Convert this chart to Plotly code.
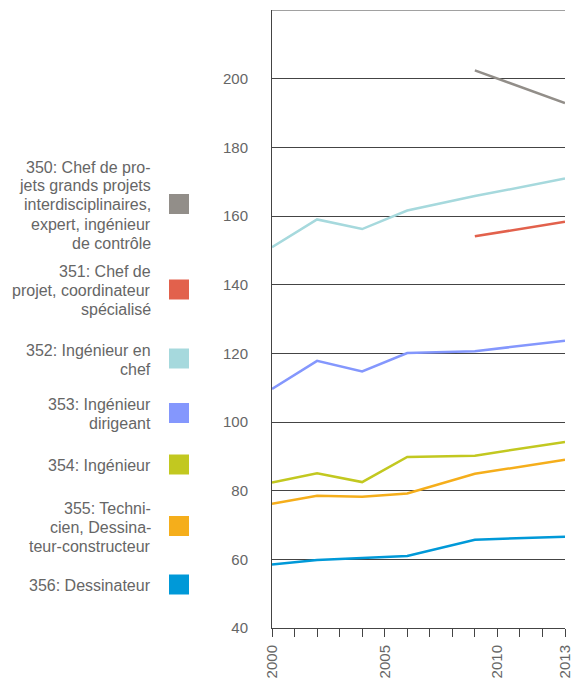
import plotly.graph_objects as go

# Data
years = [2000, 2002, 2004, 2006, 2009, 2013]
s350 = [None, None, None, None, 202.4, 192.9]
s351 = [None, None, None, None, 154.1, 158.3]
s352 = [150.9, 159.0, 156.2, 161.6, 165.8, 170.9]
s353 = [109.6, 117.8, 114.7, 120.1, 120.6, 123.7]
s354 = [82.4, 85.1, 82.5, 89.8, 90.2, 94.2]
s355 = [76.2, 78.5, 78.2, 79.2, 84.9, 89.0]
s356 = [58.5, 59.8, 60.4, 61.0, 65.7, 66.6]

series = [s350, s351, s352, s353, s354, s355, s356]
labels = [
    ["350: Chef de pro-", "jets grands projets", "interdisciplinaires,",
     "expert, ingénieur", "de contrôle"],
    ["351: Chef de", "projet, coordinateur", "spécialisé"],
    ["352: Ingénieur en", "chef"],
    ["353: Ingénieur", "dirigeant"],
    ["354: Ingénieur"],
    ["355: Techni-", "cien, Dessina-", "teur-constructeur"],
    ["356: Dessinateur"],
]
colors = ["#928e89", "#e2614c", "#a6d9dd", "#8497fd", "#c2c820", "#f5ae1b", "#0099d8"]

x_ticks = list(range(2000, 2014))
x_labels = {2000: "2000", 2005: "2005", 2010: "2010", 2013: "2013"}
y_ticks = list(range(40, 221, 20))

W, H = 579, 686
L, R, T, B = 272, 14, 10, 58
FONT = "Liberation Sans, Arial, sans-serif"
TXT = "#666666"
AX = "#444444"


def px2x(px):
    return (px - L) / (W - L - R)


def px2y(py):
    return (H - B - py) / (H - T - B)


fig = go.Figure()
for vals, lab, col in zip(series, labels, colors):
    fig.add_trace(go.Scatter(
        x=years, y=vals, mode="lines",
        name=" ".join(lab),
        line=dict(color=col, width=2.5),
        connectgaps=False,
        showlegend=False,
    ))

# custom legend on the left: text right-aligned, square on the right
legend_centers = [204, 289.5, 358.5, 413, 464.5, 526, 584.5]
line_h = 19
annotations = []
shapes = []
for lab, col, cy in zip(labels, colors, legend_centers):
    n = len(lab)
    for i, line in enumerate(lab):
        ly = cy + 1 + (i - (n - 1) / 2) * line_h
        annotations.append(dict(
            x=px2x(153), y=px2y(ly), xref="paper", yref="paper",
            text=line, showarrow=False, xanchor="right", yanchor="middle",
            font=dict(family=FONT, size=16, color=TXT),
        ))
    shapes.append(dict(
        type="rect", xref="paper", yref="paper",
        x0=px2x(169), x1=px2x(189), y0=px2y(cy + 10), y1=px2y(cy - 10),
        fillcolor=col, line=dict(width=0),
    ))

# top border line at 220
shapes.append(dict(
    type="line", xref="paper", yref="y", x0=0, x1=1, y0=220, y1=220,
    line=dict(color=AX, width=1),
))

fig.update_layout(
    width=W, height=H,
    margin=dict(l=L, r=R, t=T, b=B, autoexpand=False),
    plot_bgcolor="white", paper_bgcolor="white",
    font=dict(family=FONT, size=15, color=TXT),
    annotations=annotations,
    shapes=shapes,
    xaxis=dict(
        range=[2000, 2013],
        tickvals=x_ticks,
        ticktext=[x_labels.get(y, "") for y in x_ticks],
        tickangle=-90,
        ticks="outside", ticklen=8, tickcolor=AX, tickwidth=1,
        showline=True, linecolor=AX, linewidth=1,
        showgrid=False, zeroline=False,
        ticklabelstandoff=2,
        automargin=False,
        tickfont=dict(family=FONT, size=15, color=TXT),
    ),
    yaxis=dict(
        range=[40, 220],
        tickvals=y_ticks,
        ticktext=[str(v) if v < 220 else "" for v in y_ticks],
        showline=True, linecolor=AX, linewidth=1,
        showgrid=True, gridcolor=AX, gridwidth=1,
        zeroline=False, ticks="",
        ticklabelstandoff=20,
        automargin=False,
        tickfont=dict(family=FONT, size=15, color=TXT),
    ),
)

# drop the browser's default body margin so the figure fills the window
fig.write_html("out.html", config={"displayModeBar": False},
               post_script="document.body.style.margin='0';")
